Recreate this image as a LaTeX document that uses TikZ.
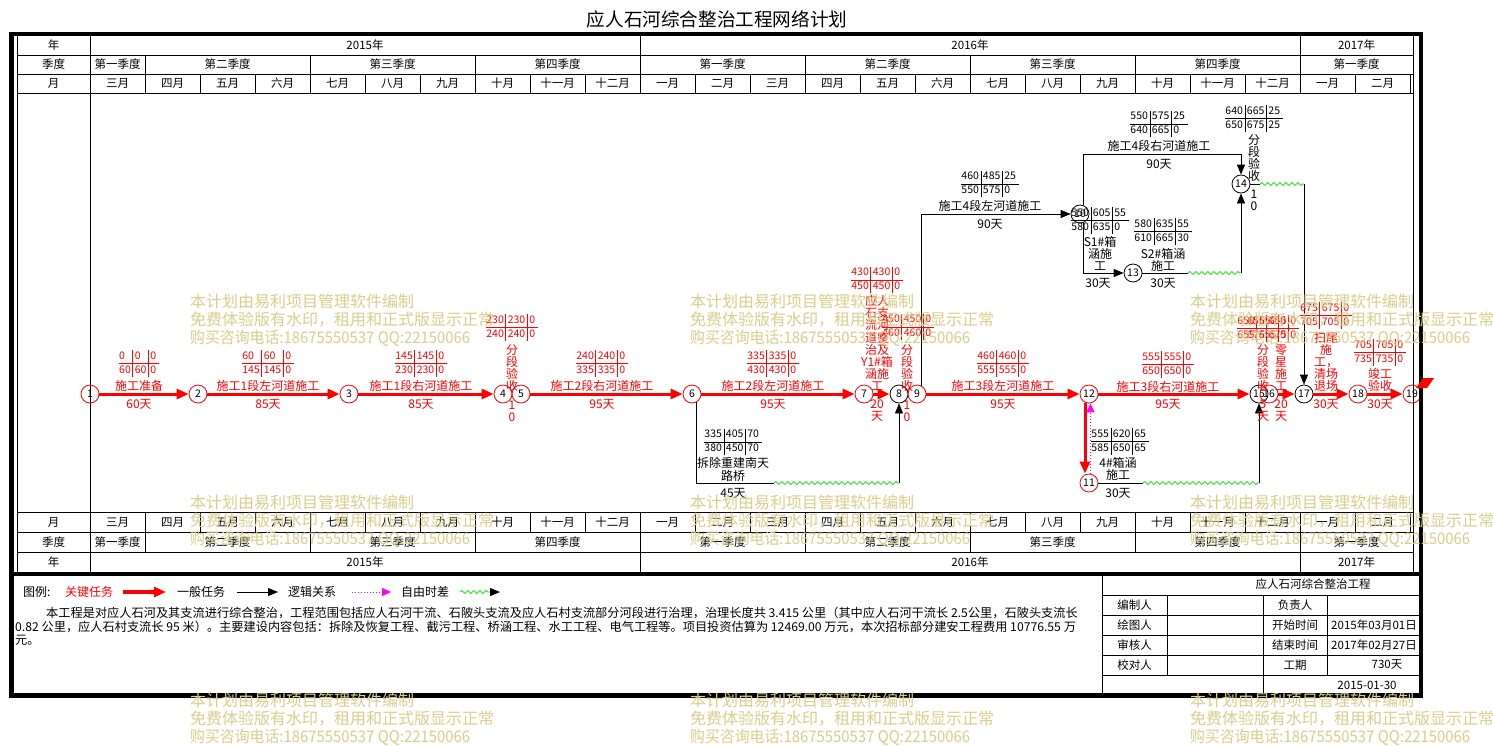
\documentclass[tikz,border=0pt]{standalone}
\usepackage{fontspec}
\usepackage{graphicx}
\setmainfont{Noto Sans CJK SC}
\usetikzlibrary{arrows.meta,decorations.pathmorphing}
\definecolor{wm}{RGB}{216,207,140}
\definecolor{wavyg}{RGB}{0,230,0}
\definecolor{mag}{RGB}{255,0,255}
\setlength\arrayrulewidth{0.8pt}
\newcommand\tb[6]{{\setlength\tabcolsep{2pt}\renewcommand\arraystretch{1}\begin{tabular}{@{}l|l|l@{\hspace{2.5pt}}}#1&#2&#3\\\hline #4&#5&#6\end{tabular}}}
\tikzset{
 evr/.style={circle, draw=red, line width=0.8pt, minimum size=18pt, inner sep=0pt, font=\fontsize{10.5}{10.5}\selectfont},
 evb/.style={evr, draw=black},
 crit/.style={draw=red, line width=3pt, -{Triangle[length=12pt,width=10pt]}},
 nline/.style={draw=black, line width=0.8pt, -{Triangle[length=10pt,width=8pt]}},
 pline/.style={draw=black, line width=0.8pt},
 wavy/.style={draw=wavyg, line width=0.8pt, decorate, decoration={snake, amplitude=1.5pt, segment length=6pt}},
 dotarr/.style={draw=mag, line width=1pt, dotted, -{Triangle[length=9pt,width=8pt]}},
 rlab/.style={text=red, inner sep=0pt, align=center, font=\fontsize{12}{12.1}\selectfont},
 blab/.style={rlab, text=black},
 rbox/.style={text=red, inner sep=0pt, font=\fontsize{10.5}{13}\selectfont},
 bbox/.style={rbox, text=black},
 hdr/.style={inner sep=0pt, font=\fontsize{11.5}{11.5}\selectfont},
 wmk/.style={text=wm, anchor=west, inner sep=0pt, font=\fontsize{16}{16}\selectfont},
 gline/.style={draw=black, line width=0.8pt},
 note/.style={anchor=west, inner sep=0pt, font=\fontsize{12.2}{12.2}\selectfont},
}
\begin{document}
\begin{tikzpicture}[x=1pt,y=-1pt]
\useasboundingbox (0,0) rectangle (1493,745);
\fill[white] (0,0) rectangle (1493,745);
\node[font=\fontsize{18.6}{18.6}\selectfont, inner sep=0pt] (title) at (717,19) {应人石河综合整治工程网络计划};

% ---- header grid
\draw[gline] (17,36) -- (17,574);
\draw[gline] (90,36) -- (90,572);
\draw[gline] (1413,36) -- (1413,572);
\foreach \y in {55,74,93,512,532,552} \draw[gline] (17,\y) -- (1413,\y);
\foreach \x in {640,1300} {\draw[gline] (\x,36) -- (\x,55); \draw[gline] (\x,552) -- (\x,572);}
\foreach \x in {145,310,475,640,805,970,1135,1300} {\draw[gline] (\x,55) -- (\x,74); \draw[gline] (\x,532) -- (\x,552);}
\foreach \i in {1,...,24} {\draw[gline] ({90+55*\i},74) -- ({90+55*\i},93); \draw[gline] ({90+55*\i},512) -- ({90+55*\i},532);}

\node[hdr] (hy) at (53.5,45.5) {年};
\node[hdr] (hq) at (53.5,64.5) {季度};
\node[hdr] (hm) at (53.5,83.5) {月};
\node[hdr] (bm) at (53.5,522) {月};
\node[hdr] (bq) at (53.5,542) {季度};
\node[hdr] (by) at (53.5,562) {年};
\foreach \m [count=\i from 0] in {三月,四月,五月,六月,七月,八月,九月,十月,十一月,十二月,一月,二月,三月,四月,五月,六月,七月,八月,九月,十月,十一月,十二月,一月,二月}
 {\node[hdr] (mt\i) at ({117.5+55*\i},83.5) {\m};
  \node[hdr] (mb\i) at ({117.5+55*\i},522) {\m};}
\foreach \a/\b/\q [count=\i] in {90/145/第一季度,145/310/第二季度,310/475/第三季度,475/640/第四季度,640/805/第一季度,805/970/第二季度,970/1135/第三季度,1135/1300/第四季度,1300/1413/第一季度}
 {\node[hdr] (qt\i) at ({(\a+\b)/2},64.5) {\q};
  \node[hdr] (qb\i) at ({(\a+\b)/2},542) {\q};}
\foreach \a/\b/\q [count=\i] in {90/640/2015年,640/1300/2016年,1300/1413/2017年}
 {\node[hdr] (yt\i) at ({(\a+\b)/2},45.5) {\q};
  \node[hdr] (yb\i) at ({(\a+\b)/2},562) {\q};}

% ---- title block
\draw[gline] (1102,574) -- (1102,695);
\foreach \y in {595,615,635,655,675} \draw[gline] (1102,\y) -- (1421,\y);
\draw[gline] (1167,595) -- (1167,675);
\draw[gline] (1263,595) -- (1263,695);
\draw[gline] (1327,595) -- (1327,675);
\node[hdr] (tbt) at (1313,584.5) {应人石河综合整治工程};
\node[hdr] (tb1) at (1134.5,605) {编制人};
\node[hdr] (tb2) at (1134.5,625) {绘图人};
\node[hdr] (tb3) at (1134.5,645) {审核人};
\node[hdr] (tb4) at (1134.5,665) {校对人};
\node[hdr] (tb5) at (1295,605) {负责人};
\node[hdr] (tb6) at (1295,625) {开始时间};
\node[hdr] (tb7) at (1295,645) {结束时间};
\node[hdr] (tb8) at (1295,665) {工期};
\node[hdr] (tb9) at (1374,625) {2015年03月01日};
\node[hdr] (tb10) at (1374,645) {2017年02月27日};
\node[hdr] (tb11) at (1387,665) {730天};
\node[hdr] (tb12) at (1367,685) {2015-01-30};

% ---- legend
\node[blab, anchor=west] (lg0) at (23,592) {图例:};
\node[rlab, anchor=west] (lg1) at (65,592) {关键任务};
\coordinate (lga1) at (123,592); \coordinate (lga2) at (166,592);
\draw[crit, line width=4.5pt] (lga1) -- (lga2);
\node[blab, anchor=west] (lg2) at (177,592) {一般任务};
\coordinate (lgb1) at (237,592); \coordinate (lgb2) at (278,592);
\draw[nline] (lgb1) -- (lgb2);
\node[blab, anchor=west] (lg3) at (288,592) {逻辑关系};
\coordinate (lgc1) at (352,592); \coordinate (lgc2) at (391,592);
\draw[dotarr] (lgc1) -- (lgc2);
\node[blab, anchor=west] (lg4) at (401,592) {自由时差};
\coordinate (lgd1) at (460,592); \coordinate (lgd2) at (490,592); \coordinate (lgd3) at (500,592);
\draw[wavy] (lgd1) -- (lgd2);
\draw[nline] (lgd2) -- (lgd3);

% ---- notes
\node[note] (nt1) at (46,613) {本工程是对应人石河及其支流进行综合整治，工程范围包括应人石河干流、石陂头支流及应人石村支流部分河段进行治理，治理长度共 3.415 公里（其中应人石河干流长 2.5公里，石陂头支流长};
\node[note] (nt2) at (15,627) {0.82 公里，应人石村支流长 95 米）。主要建设内容包括：拆除及恢复工程、截污工程、桥涵工程、水工工程、电气工程等。项目投资估算为 12469.00 万元，本次招标部分建安工程费用 10776.55 万};
\node[note] (nt3) at (15,640) {元。};

% ---- events
\node[evr] (n1) at (90,394) {1};
\node[evr] (n2) at (198,394) {2};
\node[evr] (n3) at (349,394) {3};
\node[evr] (n4) at (503,394) {4};
\node[evr] (n5) at (521,394) {5};
\node[evr] (n6) at (692,394) {6};
\node[evr] (n7) at (864,394) {7};
\node[evb] (n8) at (899,394) {8};
\node[evr] (n9) at (917,394) {9};
\node[evb] (n10) at (1080,214) {10};
\node[evr] (n11) at (1089,483) {11};
\node[evr] (n12) at (1089,394) {12};
\node[evb] (n13) at (1133,273) {13};
\node[evb] (n14) at (1241,184) {14};
\node[evb] (n15) at (1259,394) {15};
\node[evr] (n16) at (1269,394) {16};
\node[evb] (n17) at (1304,394) {17};
\node[evr] (n18) at (1358,394) {18};
\node[evr] (n19) at (1412,394) {19};

% ---- critical arrows
\draw[crit] (n1) -- (n2);
\draw[crit] (n2) -- (n3);
\draw[crit] (n3) -- (n4);
\draw[crit] (n5) -- (n6);
\draw[crit] (n6) -- (n7);
\draw[crit] (n7) -- (n8);
\draw[crit] (n9) -- (n12);
\draw[crit] (n12) -- (n15);
\draw[crit] (n16) -- (n17);
\draw[crit] (n17) -- (n18);
\draw[crit] (n18) -- (n19);
\draw[crit] ([xshift=-4pt]n12.south) -- ([xshift=-4pt]n11.north);
\draw[dotarr] ([xshift=1.5pt]n11.north) -- ([xshift=1.5pt]n12.south);

% ---- non-critical
\coordinate (c68a) at (774,483); \coordinate (c68b) at (899,483);
\draw[pline] (n6.-60) |- (c68a);
\draw[wavy] (c68a) -- (c68b);
\draw[nline] (c68b) -- (n8);
\draw[nline] (n9.60) |- (n10);
\coordinate (c1014) at (1241,154);
\draw[nline] (n10.70) |- (c1014) -- (n14);
\draw[nline] (n10.-70) |- (n13);
\coordinate (c1314a) at (1188,273); \coordinate (c1314b) at (1241,273);
\draw[pline] (n13) -- (c1314a);
\draw[wavy] (c1314a) -- (c1314b);
\draw[nline] (c1314b) -- (n14);
\coordinate (c1417a) at (1260,184); \coordinate (c1417b) at (1304,184);
\draw[pline] (n14) -- (c1417a);
\draw[wavy] (c1417a) -- (c1417b);
\draw[nline] (c1417b) -- (n17);
\coordinate (c1115a) at (1143,483); \coordinate (c1115b) at (1259,483);
\draw[pline] (n11) -- (c1115a);
\draw[wavy] (c1115a) -- (c1115b);
\draw[nline] (c1115b) -- (n15);

% ---- critical labels
\node[rbox] (b12) at (139,363.5) {\tb{0}{0}{0}{60}{60}{0}};
\node[rlab] (t12) at (139,386) {施工准备};
\node[rlab] (d12) at (139,404) {60天};
\node[rbox] (b23) at (268,363.5) {\tb{60}{60}{0}{145}{145}{0}};
\node[rlab] (t23) at (268,386) {施工1段左河道施工};
\node[rlab] (d23) at (268,404) {85天};
\node[rbox] (b34) at (421,363.5) {\tb{145}{145}{0}{230}{230}{0}};
\node[rlab] (t34) at (421,386) {施工1段右河道施工};
\node[rlab] (d34) at (421,404) {85天};
\node[rbox] (b45) at (512,327.5) {\tb{230}{230}{0}{240}{240}{0}};
\node[rlab] (t45) at (512,368) {分\\段\\验\\收};
\node[rlab] (d45) at (512,411) {1\\0};
\node[rbox] (b56) at (602,363.5) {\tb{240}{240}{0}{335}{335}{0}};
\node[rlab] (t56) at (602,386) {施工2段右河道施工};
\node[rlab] (d56) at (602,404) {95天};
\node[rbox] (b67) at (773,363.5) {\tb{335}{335}{0}{430}{430}{0}};
\node[rlab] (t67) at (773,386) {施工2段左河道施工};
\node[rlab] (d67) at (773,404) {95天};
\node[rbox] (b78) at (877,280) {\tb{430}{430}{0}{450}{450}{0}};
\node[rlab] (t78) at (877,343) {应人\\石支\\流河\\道整\\治及\\Y1\#箱\\涵施\\工};
\node[rlab] (d78) at (877,411) {20\\天};
\node[rbox] (b89) at (908,327) {\tb{450}{450}{0}{460}{460}{0}};
\node[rlab] (t89) at (907,368) {分\\段\\验\\收};
\node[rlab] (d89) at (907,411) {1\\0};
\node[rbox] (b912) at (1003,363.5) {\tb{460}{460}{0}{555}{555}{0}};
\node[rlab] (t912) at (1003,386) {施工3段左河道施工};
\node[rlab] (d912) at (1003,404) {95天};
\node[rbox] (b1215) at (1168,364.5) {\tb{555}{555}{0}{650}{650}{0}};
\node[rlab] (t1215) at (1168,387) {施工3段右河道施工};
\node[rlab] (d1215) at (1168,404) {95天};
\node[rbox] (b1516) at (1263,328.5) {\tb{650}{650}{0}{655}{655}{0}};
\node[rlab] (t1516) at (1263,368) {分\\段\\验\\收};
\node[rlab] (d1516) at (1263,411) {5\\天};
\node[rbox] (b1617) at (1273,328.5) {\tb{655}{655}{0}{675}{675}{0}};
\node[rlab] (t1617) at (1281,368) {零\\星\\施\\工};
\node[rlab] (d1617) at (1281,411) {20\\天};
\node[rbox] (b1718) at (1326,315.5) {\tb{675}{675}{0}{705}{705}{0}};
\node[rlab] (t1718) at (1326,362) {扫尾\\施\\工，\\清场\\退场};
\node[rlab] (d1718) at (1326,404) {30天};
\node[rbox] (b1819) at (1380,352.5) {\tb{705}{705}{0}{735}{735}{0}};
\node[rlab] (t1819) at (1380,379.5) {竣工\\验收};
\node[rlab] (d1819) at (1380,404) {30天};

% ---- non-critical labels
\node[bbox] (b68) at (733,442) {\tb{335}{405}{70}{380}{450}{70}};
\node[blab, font=\fontsize{12}{13}\selectfont] (t68) at (733,469.5) {拆除重建南天\\路桥};
\node[blab] (d68) at (733,493) {45天};
\node[bbox] (b910) at (990,184) {\tb{460}{485}{25}{550}{575}{0}};
\node[blab] (t910) at (990,206) {施工4段左河道施工};
\node[blab] (d910) at (990,224) {90天};
\node[bbox] (b1014) at (1159,124) {\tb{550}{575}{25}{640}{665}{0}};
\node[blab] (t1014) at (1159,146) {施工4段右河道施工};
\node[blab] (d1014) at (1159,164) {90天};
\node[bbox] (b1013) at (1100,220.5) {\tb{550}{605}{55}{580}{635}{0}};
\node[blab] (t1013) at (1100,253.5) {S1\#箱\\涵施\\工};
\node[blab] (d1013) at (1098,283) {30天};
\node[bbox] (b1314) at (1163,231.5) {\tb{580}{635}{55}{610}{665}{30}};
\node[blab] (t1314) at (1163,259.5) {S2\#箱涵\\施工};
\node[blab] (d1314) at (1163,283) {30天};
\node[bbox] (b1417) at (1254,118.5) {\tb{640}{665}{25}{650}{675}{25}};
\node[blab] (t1417) at (1254,158) {分\\段\\验\\收};
\node[blab] (d1417) at (1254,200) {1\\0};
\node[bbox] (b1115) at (1120,441.5) {\tb{555}{620}{65}{585}{650}{65}};
\node[blab] (t1115) at (1118,469) {4\#箱涵\\施工};
\node[blab] (d1115) at (1118,493) {30天};

% ---- frame
\draw[line width=4.5pt] (11.5,34) rectangle (1421,695.5);
\draw[line width=4pt] (11.5,574) -- (1421,574);
\fill[red] (1416,388) -- (1423,378) -- (1434,378) -- (1427,388) -- cycle;

% ---- watermarks
\foreach \x/\k in {190/a,690/b,1190/c} {
 \foreach \y/\r in {301/1,502/2,700/3} {
  \node[wmk] (w\k\r a) at (\x,\y) {本计划由易利项目管理软件编制};
  \node[wmk] (w\k\r b) at (\x,\y+19) {免费体验版有水印，租用和正式版显示正常};
  \node[wmk] (w\k\r c) at (\x,\y+37) {\scalebox{0.93}[1]{购买咨询电话:18675550537 QQ:22150066}};
 }
}
\end{tikzpicture}
\end{document}
